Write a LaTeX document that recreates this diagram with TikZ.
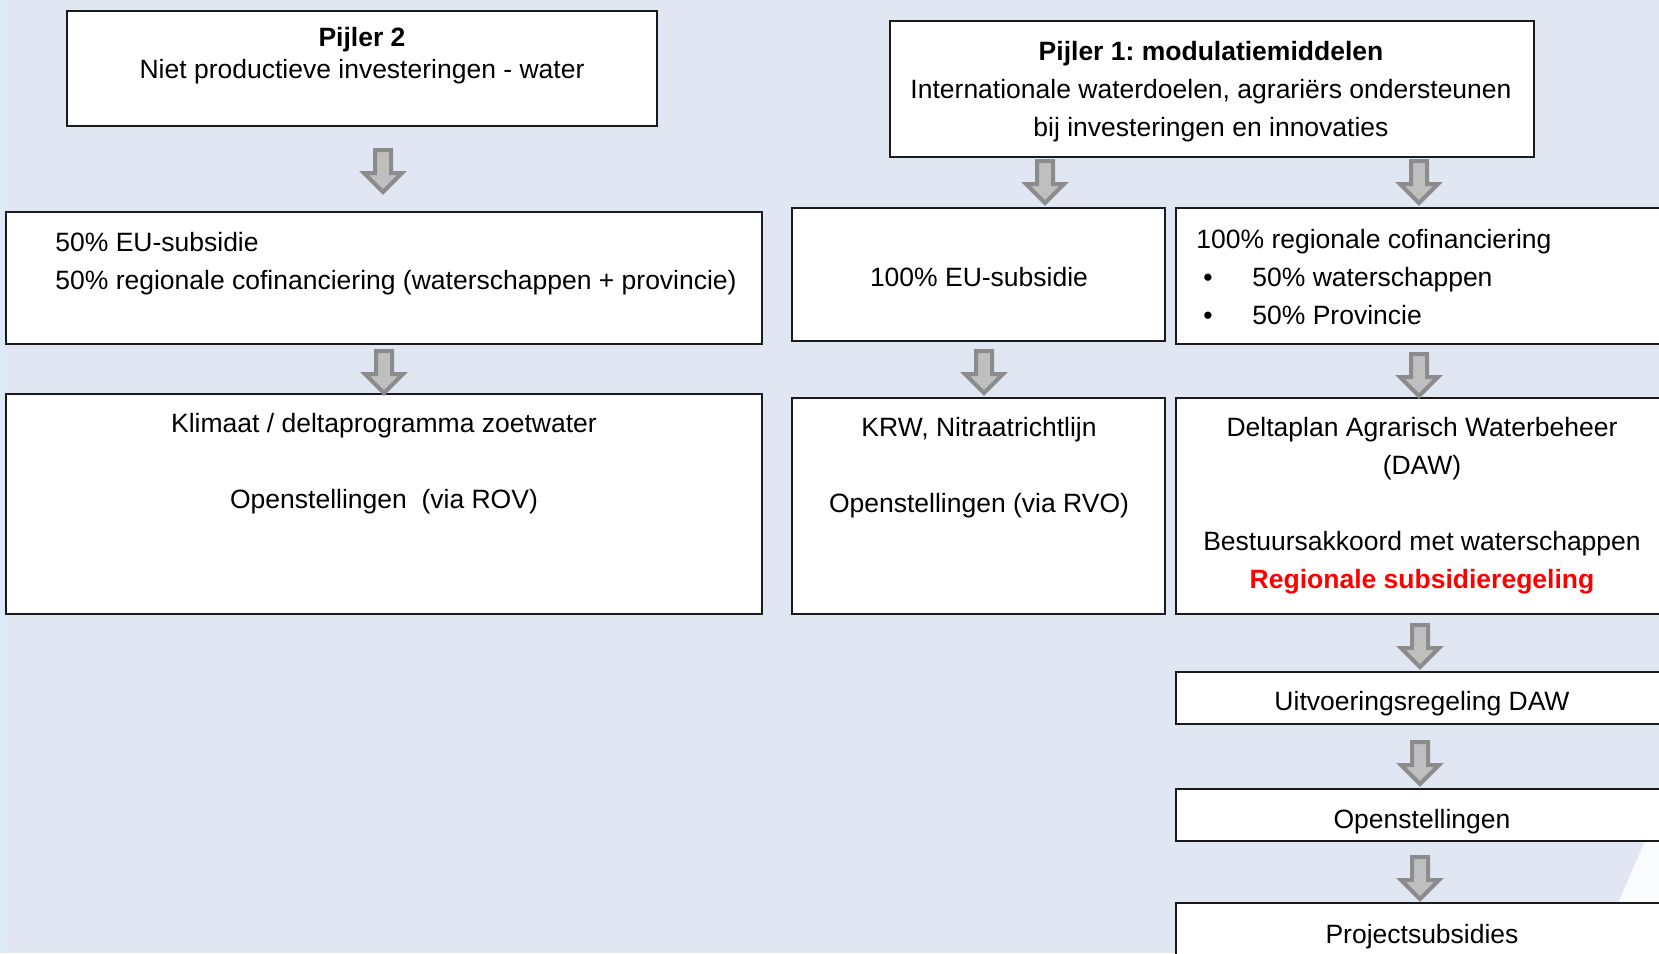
\documentclass[tikz,border=0pt]{standalone}
\usepackage{fontspec}
\setmainfont{Liberation Sans}
\usetikzlibrary{fit}
\frenchspacing
\definecolor{bg}{HTML}{E0E6F2}
\definecolor{bgstrip}{HTML}{DCEAF8}
\definecolor{arrowfill}{HTML}{BFBFBF}
\definecolor{arrowedge}{HTML}{8C8C8C}
\definecolor{boxline}{HTML}{1A1A1A}
\definecolor{redtxt}{HTML}{FF0000}
\tikzset{
  box/.style={draw=boxline, line width=1pt, fill=white, inner sep=0pt},
  txt/.style={inner sep=0pt, align=center, font=\fontsize{13.25}{19}\selectfont},
  txtl/.style={inner sep=0pt, align=left, font=\fontsize{13.25}{19}\selectfont},
  barrow/.pic={\filldraw[fill=arrowfill, draw=arrowedge, line width=2pt, line join=miter]
    (-8,2) -- (8,2) -- (8,25) -- (19,25) -- (0,44) -- (-19,25) -- (-8,25) -- cycle;}
}
\begin{document}
\begin{tikzpicture}[x=0.5pt,y=-0.5pt]
\useasboundingbox (0,0) rectangle (1659,953);
\clip (0,0) rectangle (1659,953);
\fill[bg] (0,0) rectangle (1659,953);
\fill[bgstrip] (0,0) rectangle (6,953);
\fill[white, opacity=0.85] (1645,841) -- (1659,841) -- (1659,903) -- (1618,903) -- cycle;

% boxes
\node[box, fit={(67,11) (657,126)}] (p2) {};
\node[box, fit={(890,21) (1534,157)}] (p1) {};
\node[box, fit={(6,212) (762,344)}] (eu50) {};
\node[box, fit={(792,208) (1165,341)}] (eu100) {};
\node[box, fit={(1176,208) (1690,344)}] (reg) {};
\node[box, fit={(6,394) (762,614)}] (klim) {};
\node[box, fit={(792,398) (1165,614)}] (krw) {};
\node[box, fit={(1176,398) (1690,614)}] (delta) {};
\node[box, fit={(1176,672) (1690,724)}] (uitv) {};
\node[box, fit={(1176,789) (1690,841)}] (open) {};
\node[box, fit={(1176,903) (1690,990)}] (proj) {};

% texts
\node[txt, anchor=north, font=\fontsize{13.25}{16}\selectfont] (p2t) at (362,27)
  {\textbf{Pijler 2}\\Niet productieve investeringen - water};
\node[txt, anchor=north] (p1t) at (1211,41)
  {\textbf{Pijler 1: modulatiemiddelen}\\Internationale waterdoelen, agrariërs ondersteunen\\bij investeringen en innovaties};
\node[txtl, anchor=north west] (eu50t) at (55,232)
  {50\% EU-subsidie\\50\% regionale cofinanciering (waterschappen + provincie)};
\node[txt, anchor=north] (eu100t) at (979,267) {100\% EU-subsidie};
\node[txtl, anchor=north west] (regt) at (1196,229)
  {100\% regionale cofinanciering\\
   \makebox[28pt][l]{\hspace{3.5pt}•}50\% waterschappen\\
   \makebox[28pt][l]{\hspace{3.5pt}•}50\% Provincie};
\node[txt, anchor=north] (klimt) at (384,413)
  {Klimaat / deltaprogramma zoetwater\\\mbox{}\\Openstellingen\ \ (via ROV)};
\node[txt, anchor=north] (krwt) at (979,417)
  {KRW, Nitraatrichtlijn\\\mbox{}\\Openstellingen (via RVO)};
\node[txt, anchor=north] (deltat) at (1422,417)
  {Deltaplan Agrarisch Waterbeheer\\(DAW)\\\mbox{}\\Bestuursakkoord met waterschappen\\\textcolor{redtxt}{\textbf{Regionale subsidieregeling}}};
\node[txt, anchor=north] (uitvt) at (1422,691) {Uitvoeringsregeling DAW};
\node[txt, anchor=north] (opent) at (1422,809) {Openstellingen};
\node[txt, anchor=north] (projt) at (1422,924) {Projectsubsidies};

% block arrows
\pic at (383,148) {barrow};
\pic at (384,349) {barrow};
\pic at (1045,159) {barrow};
\pic at (1419,159) {barrow};
\pic at (984,349) {barrow};
\pic at (1419,352) {barrow};
\pic at (1420,623) {barrow};
\pic at (1420,740) {barrow};
\pic at (1420,855) {barrow};
\end{tikzpicture}
\end{document}
